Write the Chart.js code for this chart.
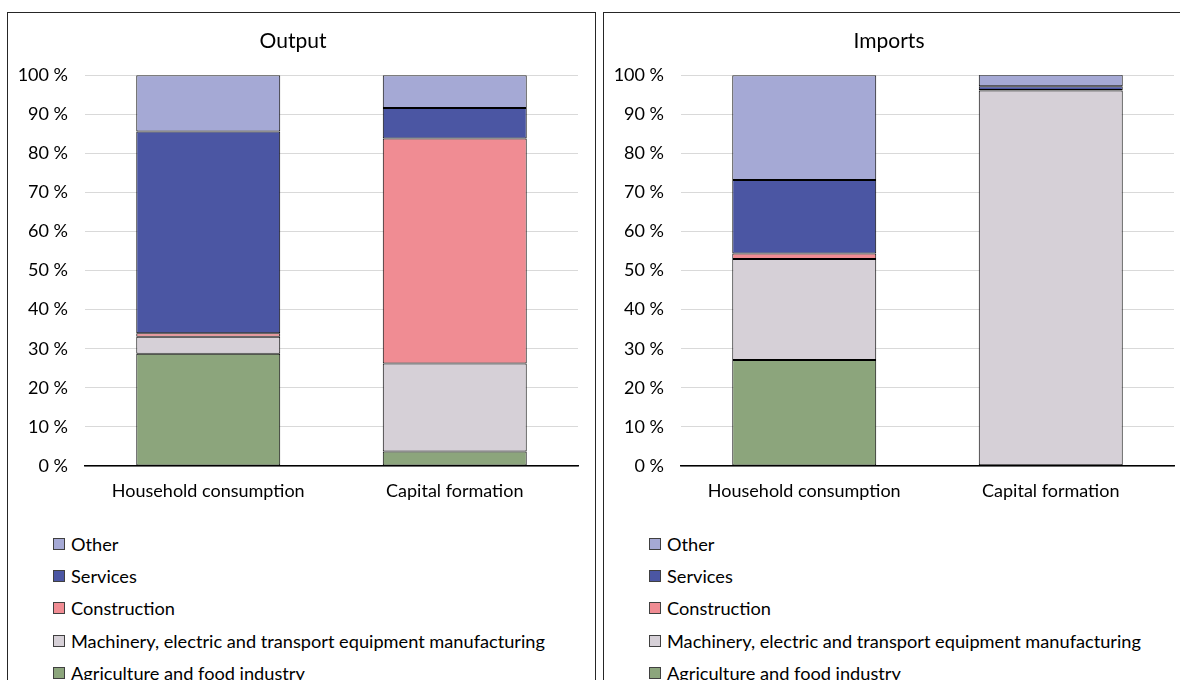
<!DOCTYPE html>
<html>
<head>
<meta charset="utf-8">
<script src="https://cdn.jsdelivr.net/npm/chart.js@4.4.1/dist/chart.umd.min.js"></script>
<style>
  html, body { margin: 0; padding: 0; background: #fff; overflow: hidden; width: 1180px; height: 680px; }
  .panel { position: absolute; top: 12px; width: 587px; height: 700px; border: 1px solid #262626; background: #fff; }
  .panel canvas { position: absolute; left: 0; top: 0; }
  .legend { position: absolute; left: 45px; top: 515px; font-family: Lato, sans-serif; font-size: 18.2px; color: #000; }
  .legend .row { height: 32.2px; display: flex; align-items: center; }
  .legend .box { width: 10px; height: 10px; border: 1px solid #404040; margin-right: 6px; }
</style>
</head>
<body>
<div class="panel" id="panelOutput" style="left:7px"><canvas id="chartOutput"></canvas><div class="legend" id="legendOutput"></div></div>
<div class="panel" id="panelImports" style="left:603px"><canvas id="chartImports"></canvas><div class="legend" id="legendImports"></div></div>
<script>
// categorías y series (valores en %)
const categories = ["Household consumption", "Capital formation"];
const seriesNames = [
  "Agriculture and food industry",
  "Machinery, electric and transport equipment manufacturing",
  "Construction",
  "Services",
  "Other"
];
const seriesColors = ["#8CA57C", "#D6D0D7", "#F08C93", "#4B56A3", "#A5A9D5"];

// Output
const outputAgri = [28.7, 3.7];
const outputMach = [4.4, 22.5];
const outputConstr = [0.9, 57.6];
const outputServ = [51.6, 7.8];
const outputOther = [14.4, 8.4];

// Imports
const importsAgri = [27.1, 0.2];
const importsMach = [25.9, 95.9];
const importsConstr = [1.4, 0.1];
const importsServ = [18.8, 1.0];
const importsOther = [26.8, 2.9];

const yTicks = [0, 10, 20, 30, 40, 50, 60, 70, 80, 90, 100];

const FONT = "Lato, sans-serif";
const CW = 587, CH = 500;

function makeChart(canvasId, title, seriesData, leftW) {
  const canvas = document.getElementById(canvasId);
  canvas.width = CW; canvas.height = CH;
  canvas.style.width = CW + "px"; canvas.style.height = CH + "px";
  const datasets = seriesData.map((d, i) => ({
    label: seriesNames[i],
    data: d,
    backgroundColor: seriesColors[i],
    borderColor: "#000",
    borderWidth: 1,
    borderSkipped: false,
    barPercentage: 0.584,
    categoryPercentage: 1
  }));
  return new Chart(canvas.getContext("2d"), {
    type: "bar",
    data: { labels: categories, datasets: datasets },
    options: {
      responsive: false,
      animation: false,
      layout: { padding: { left: 0, right: 17, top: 0, bottom: 0 } },
      plugins: {
        legend: { display: false },
        tooltip: { enabled: false },
        title: {
          display: true,
          text: title,
          color: "#000",
          font: { family: FONT, size: 21, weight: "normal" },
          padding: { top: 16, bottom: 21 }
        }
      },
      scales: {
        x: {
          stacked: true,
          grid: { display: false, drawTicks: false },
          border: { display: true, color: "#000", width: 1.5 },
          ticks: { color: "#000", font: { family: FONT, size: 18 }, padding: 14 },
          afterFit: s => { s.height = 47; }
        },
        y: {
          stacked: true,
          min: 0,
          max: 100,
          afterBuildTicks: s => { s.ticks = yTicks.map(v => ({ value: v })); },
          grid: { color: "#D9D9D9", lineWidth: 1, drawTicks: false },
          border: { display: false },
          ticks: {
            color: "#000",
            font: { family: FONT, size: 18 },
            padding: 17,
            callback: v => v + " %"
          },
          afterFit: s => { s.width = leftW; }
        }
      }
    }
  });
}

function makeLegend(elId) {
  const el = document.getElementById(elId);
  // orden inverso, como en el original
  for (let i = seriesNames.length - 1; i >= 0; i--) {
    const row = document.createElement("div");
    row.className = "row";
    const box = document.createElement("span");
    box.className = "box";
    box.style.background = seriesColors[i];
    const txt = document.createElement("span");
    txt.textContent = seriesNames[i];
    row.appendChild(box);
    row.appendChild(txt);
    el.appendChild(row);
  }
}

makeChart("chartOutput", "Output",
  [outputAgri, outputMach, outputConstr, outputServ, outputOther], 77);
makeChart("chartImports", "Imports",
  [importsAgri, importsMach, importsConstr, importsServ, importsOther], 77);
makeLegend("legendOutput");
makeLegend("legendImports");
</script>
</body>
</html>
